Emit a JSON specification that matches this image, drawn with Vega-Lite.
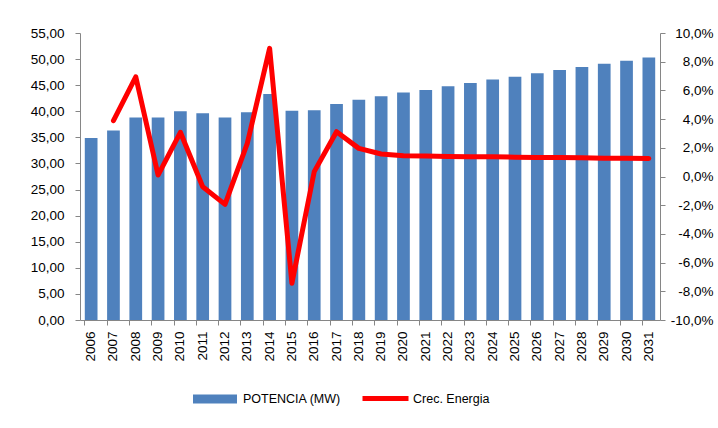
{
  "$schema": "https://vega.github.io/schema/vega-lite/v6.json",
  "width": 580,
  "height": 287,
  "autosize": "none",
  "padding": {"left": 80, "top": 33, "right": 58, "bottom": 108},
  "background": "white",
  "config": {
    "locale": {"number": {"decimal": ",", "thousands": ".", "grouping": [3], "currency": ["", " €"], "minus": "-"}},
    "view": {"stroke": null},
    "font": "Liberation Sans",
    "axis": {"grid": false, "domainColor": "#868686", "tickColor": "#868686", "labelColor": "#000000", "labelFontSize": 13.5, "labelFont": "Liberation Sans", "tickSize": 5, "title": null}
  },
  "data": {"values": [
    {"year": "2006", "potencia": 34.9, "crec": null},
    {"year": "2007", "potencia": 36.3, "crec": 0.0389},
    {"year": "2008", "potencia": 38.8, "crec": 0.0695},
    {"year": "2009", "potencia": 38.8, "crec": 0.0010},
    {"year": "2010", "potencia": 40.0, "crec": 0.0308},
    {"year": "2011", "potencia": 39.6, "crec": -0.0071},
    {"year": "2012", "potencia": 38.8, "crec": -0.0194},
    {"year": "2013", "potencia": 39.8, "crec": 0.0231},
    {"year": "2014", "potencia": 43.3, "crec": 0.0893},
    {"year": "2015", "potencia": 40.1, "crec": -0.0744},
    {"year": "2016", "potencia": 40.2, "crec": 0.0034},
    {"year": "2017", "potencia": 41.4, "crec": 0.0312},
    {"year": "2018", "potencia": 42.2, "crec": 0.0196},
    {"year": "2019", "potencia": 42.9, "crec": 0.0157},
    {"year": "2020", "potencia": 43.6, "crec": 0.0145},
    {"year": "2021", "potencia": 44.1, "crec": 0.0142},
    {"year": "2022", "potencia": 44.8, "crec": 0.0140},
    {"year": "2023", "potencia": 45.4, "crec": 0.0138},
    {"year": "2024", "potencia": 46.1, "crec": 0.0137},
    {"year": "2025", "potencia": 46.6, "crec": 0.0135},
    {"year": "2026", "potencia": 47.3, "crec": 0.0133},
    {"year": "2027", "potencia": 47.9, "crec": 0.0132},
    {"year": "2028", "potencia": 48.5, "crec": 0.0130},
    {"year": "2029", "potencia": 49.1, "crec": 0.0128},
    {"year": "2030", "potencia": 49.7, "crec": 0.0127},
    {"year": "2031", "potencia": 50.3, "crec": 0.0125}
  ]},
  "encoding": {
    "x": {"field": "year", "type": "ordinal", "scale": {"paddingInner": 0.43, "paddingOuter": 0.215},
      "axis": {"labelAngle": -90, "bandPosition": 0, "labelPadding": 6, "title": null}}
  },
  "layer": [
    {
      "mark": {"type": "bar", "color": "#4F81BD"},
      "encoding": {
        "y": {"field": "potencia", "type": "quantitative", "scale": {"domain": [0, 55], "nice": false},
          "axis": {"orient": "left", "values": [0, 5, 10, 15, 20, 25, 30, 35, 40, 45, 50, 55], "format": ".2f", "labelPadding": 11, "title": null}},
        "color": {"datum": "POTENCIA (MW)", "type": "nominal", "scale": {"range": ["#4F81BD"]},
          "legend": {"orient": "none", "legendX": 113, "legendY": 344, "title": null, "symbolType": "M-1,-0.2L1,-0.2L1,0.2L-1,0.2Z", "symbolSize": 1936, "symbolStrokeWidth": 0, "labelFontSize": 12.5, "labelFont": "Liberation Sans", "labelColor": "#000000", "labelOffset": 6, "padding": 0}}
      }
    },
    {
      "mark": {"type": "line", "color": "#FF0000", "strokeWidth": 5, "strokeCap": "round", "strokeJoin": "round"},
      "encoding": {
        "y": {"field": "crec", "type": "quantitative", "scale": {"domain": [-0.1, 0.1], "nice": false},
          "axis": {"orient": "right", "values": [-0.1, -0.08, -0.06, -0.04, -0.02, 0, 0.02, 0.04, 0.06, 0.08, 0.1], "format": ".1%", "labelAlign": "right", "labelPadding": 48, "title": null}},
        "stroke": {"datum": "Crec. Energia", "type": "nominal", "scale": {"range": ["#FF0000"]},
          "legend": {"orient": "none", "legendX": 280, "legendY": 340, "title": null, "symbolType": "stroke", "symbolSize": 2116, "symbolStrokeWidth": 5, "labelFontSize": 12.5, "labelFont": "Liberation Sans", "labelColor": "#000000", "labelOffset": 2, "padding": 0}}
      }
    }
  ],
  "resolve": {"scale": {"y": "independent", "color": "independent", "stroke": "independent"}}
}
